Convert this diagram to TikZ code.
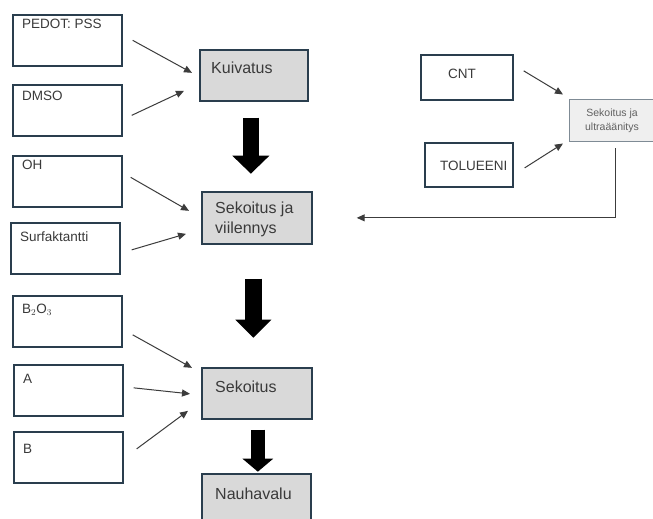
\documentclass[tikz,border=0pt]{standalone}
\usepackage{fontspec}
\setmainfont{Liberation Sans}
\usepackage{tikz}
\usetikzlibrary{arrows.meta}
\usetikzlibrary{calc}

\definecolor{reuna}{HTML}{2A3E4E}
\definecolor{harmaa}{HTML}{D9D9D9}
\definecolor{vaalea}{HTML}{EFEFEF}
\definecolor{tekstiv}{HTML}{3A3A3A}
\definecolor{nuoliv}{HTML}{3C3C3C}

\tikzset{
    laatikko/.style={draw=reuna, line width=1.7pt, minimum width=109pt, minimum height=51pt,
        anchor=north west, inner sep=0pt},
    vaihe/.style={laatikko, fill=harmaa},
    pieni/.style={laatikko, draw=reuna!60, line width=1pt, fill=vaalea},
    kirjoitus/.style={anchor=base west, inner sep=0pt, text=tekstiv, font=\fontsize{13.5}{15}\selectfont},
    isokirjoitus/.style={kirjoitus, font=\fontsize{16}{20}\selectfont},
    ohut/.style={draw=nuoliv, line width=1pt, -{Triangle[length=8pt,width=7pt]}},
    paksu/.style={line width=#1, line cap=butt, black},
}

\begin{document}
\begin{tikzpicture}[x=1pt,y=-1pt]
    \clip (0,0) rectangle (653,519);
    \fill[white] (0,0) rectangle (653,519);
    % syotteet vasemmalla
    \foreach \nimi/\x/\y/\ty/\teksti in {pedot/12/14/29/{PEDOT: PSS},
        dmso/12/84/100/DMSO, oh/12/155/169/OH, surf/10/222/241/Surfaktantti,
        boori/12/295/313/{B$_2$O$_3$}, a/13/364/383/A, b/13/431/453/B} {
        \node[laatikko] (\nimi) at (\x,\y) {};
        \node[kirjoitus] (\nimi-t) at (\x+10,\ty) {\teksti};
    }
    % vaiheet
    \node[vaihe, minimum width=108pt] (kuiv) at (199,49) {};
    \node[isokirjoitus] (kuiv-t) at (211,74) {Kuivatus};
    \node[vaihe, minimum width=110pt, minimum height=52pt] (sekv) at (201,191) {};
    \node[isokirjoitus, align=left] (sekv-t) at (215,233) {Sekoitus ja\\viilennys};
    \node[vaihe, minimum width=110pt] (seko) at (201,367) {};
    \node[isokirjoitus] (seko-t) at (215,392) {Sekoitus};
    \node[vaihe, minimum height=60pt] (nauha) at (201,473) {};
    \node[isokirjoitus] (nauha-t) at (215,499) {Nauhavalu};
    % oikea puoli
    \node[laatikko, minimum width=92pt, minimum height=45pt] (cnt) at (420,54) {};
    \node[kirjoitus] (cnt-t) at (448,78) {CNT};
    \node[laatikko, minimum width=88pt, minimum height=44pt] (tolu) at (424,142) {};
    \node[kirjoitus] (tolu-t) at (440,170) {TOLUEENI};
    \node[pieni, minimum width=90pt, minimum height=42pt] (ultra) at (569,99) {};
    \node[anchor=base, inner sep=0pt, align=center, text=tekstiv!80,
        font=\fontsize{10.5}{14}\selectfont] (ultra-t) at (612,130) {Sekoitus ja\\ultraäänitys};
    % ohuet nuolet
    \draw[ohut] ($(pedot.east)+(10,0)$) -- ($(kuiv.west)+(-7,-2.5)$);
    \draw[ohut] ($(dmso.east)+(9,5)$) -- ($(kuiv.west)+(-15,15.5)$);
    \draw[ohut] ($(oh.east)+(8,-4)$) -- ($(sekv.west)+(-12,-7)$);
    \draw[ohut] ($(surf.east)+(11,1.5)$) -- ($(sekv.west)+(-15,16)$);
    \draw[ohut] ($(boori.east)+(10,13.5)$) -- ($(seko.west)+(-9,-25.5)$);
    \draw[ohut] ($(a.east)+(10,-2.5)$) -- ($(seko.west)+(-11,0.5)$);
    \draw[ohut] ($(b.east)+(13,-8.5)$) -- ($(seko.west)+(-13,17.5)$);
    \draw[ohut] ($(cnt.east)+(10,-6.5)$) -- ($(ultra.west)+(-6,-26)$);
    \draw[ohut] ($(tolu.east)+(11,3)$) -- ($(ultra.west)+(-6,23)$);
    \draw[ohut] ($(ultra.south)+(1,6)$) |- ($(sekv.east)+(44,0)$);
    % paksut nuolet
    \draw[paksu=16pt, -{Triangle[length=18pt,width=36pt]}] ($(kuiv.south)+(-3,16)$) -- ++(0,56);
    \draw[paksu=17pt, -{Triangle[length=18pt,width=35pt]}] ($(sekv.south)+(-3.5,34)$) -- ++(0,59);
    \draw[paksu=14pt, -{Triangle[length=13pt,width=30pt]}] ($(seko.south)+(1,10)$) -- ++(0,42);
\end{tikzpicture}
\end{document}
